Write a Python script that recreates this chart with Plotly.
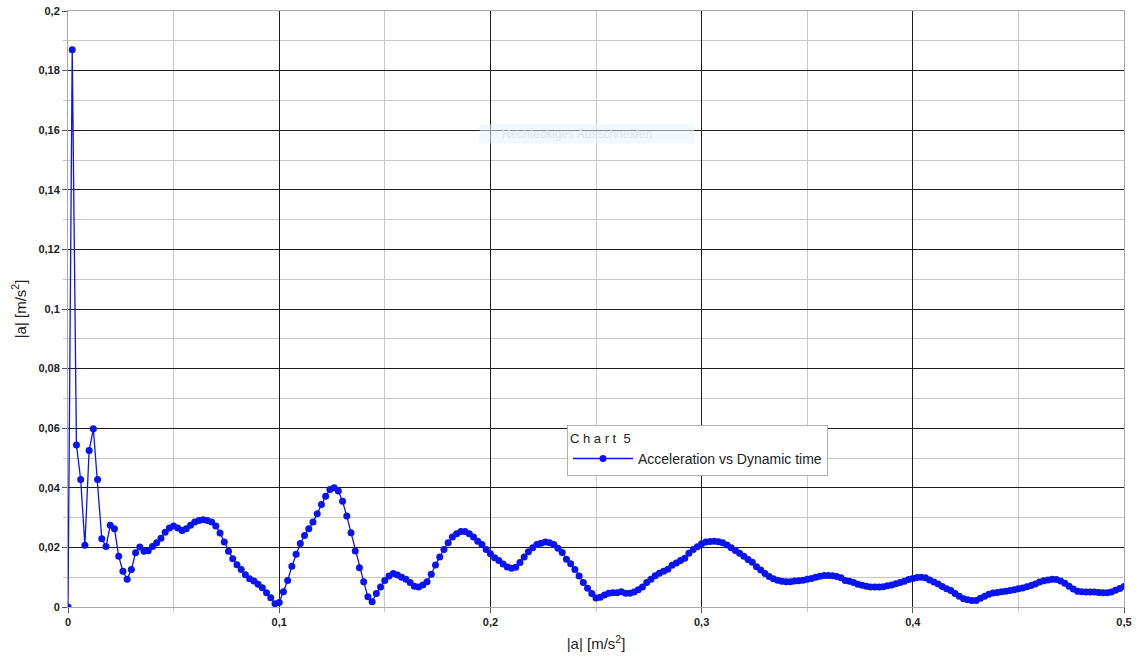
import plotly.graph_objects as go

step = 0.002
acc = [
    0, 0.187, 0.0544, 0.0428, 0.0207, 0.0525, 0.0598, 0.0428, 0.0229, 0.0203,
    0.0274, 0.0263, 0.0170, 0.0120, 0.0093, 0.0126, 0.0182, 0.0201, 0.0187, 0.0189,
    0.0203, 0.0216, 0.0231, 0.0251, 0.0265, 0.0272, 0.0265, 0.0257, 0.0263, 0.0274,
    0.0285, 0.0290, 0.0293, 0.0290, 0.0285, 0.0272, 0.0248, 0.0218, 0.0187, 0.0162,
    0.0142, 0.0126, 0.0108, 0.0095, 0.0087, 0.0076, 0.0065, 0.0048, 0.0031, 0.0011,
    0.0015, 0.0051, 0.0089, 0.0137, 0.0177, 0.0213, 0.0240, 0.0263, 0.0285, 0.0313,
    0.0344, 0.0372, 0.0394, 0.0400, 0.0389, 0.0355, 0.0305, 0.0249, 0.0188, 0.0132,
    0.0085, 0.0034, 0.0018, 0.0045, 0.0067, 0.0089, 0.0104, 0.0112, 0.0107, 0.0100,
    0.0093, 0.0082, 0.0070, 0.0067, 0.0074, 0.0085, 0.0110, 0.0141, 0.0168, 0.0193,
    0.0216, 0.0235, 0.0246, 0.0253, 0.0253, 0.0246, 0.0235, 0.0221, 0.0210, 0.0193,
    0.0179, 0.0165, 0.0156, 0.0144, 0.0134, 0.0130, 0.0133, 0.0149, 0.0168, 0.0185,
    0.0199, 0.0210, 0.0214, 0.0218, 0.0216, 0.0210, 0.0197, 0.0183, 0.0160, 0.0145,
    0.0126, 0.0104, 0.0082, 0.0063, 0.0045, 0.0030, 0.0033, 0.0040, 0.0046, 0.0048,
    0.0048, 0.0051, 0.0046, 0.0046, 0.0050, 0.0058, 0.0067, 0.0082, 0.0093, 0.0105,
    0.0113, 0.0120, 0.0127, 0.0140, 0.0148, 0.0156, 0.0164, 0.0180, 0.0193, 0.0202,
    0.0212, 0.0218, 0.0220, 0.0221, 0.0219, 0.0216, 0.0208, 0.0199, 0.0190, 0.0180,
    0.0170, 0.0159, 0.0150, 0.0135, 0.0124, 0.0112, 0.0102, 0.0095, 0.0090, 0.0086,
    0.0085, 0.0085, 0.0087, 0.0088, 0.0090, 0.0093, 0.0096, 0.0100, 0.0103, 0.0106,
    0.0106, 0.0105, 0.0102, 0.0098, 0.0089, 0.0086, 0.0082, 0.0076, 0.0073, 0.0070,
    0.0067, 0.0067, 0.0067, 0.0068, 0.0071, 0.0074, 0.0078, 0.0082, 0.0086, 0.0092,
    0.0096, 0.0099, 0.0100, 0.0098, 0.0091, 0.0084, 0.0077, 0.0069, 0.0061, 0.0055,
    0.0045, 0.0036, 0.0028, 0.0024, 0.0022, 0.0022, 0.0029, 0.0036, 0.0043, 0.0047,
    0.0049, 0.0051, 0.0053, 0.0055, 0.0058, 0.0061, 0.0064, 0.0068, 0.0072, 0.0077,
    0.0084, 0.0088, 0.0091, 0.0093, 0.0092, 0.0087, 0.0080, 0.0070, 0.0060, 0.0053,
    0.0051, 0.0050, 0.0050, 0.0050, 0.0049, 0.0048, 0.0048, 0.0050, 0.0056, 0.0062, 0.0069,
]
time = [round(step * i, 3) for i in range(len(acc))]

series_name = "Acceleration vs Dynamic time"
legend_title = "C h a r t  5"
x_title = "|a| [m/s<sup>2</sup>]"
y_title = "|a| [m/s<sup>2</sup>]"

blue = "#0a14f0"
major = "#1e1e1e"
minor = "#c8c8c8"
frame = "#a8a8a8"
tick_font = dict(family="Liberation Sans", size=11, color="#222222", weight="bold")
title_font = dict(family="Liberation Sans", size=15, color="#222222")

fig = go.Figure()
fig.add_trace(go.Scatter(
    x=time, y=acc, mode="lines+markers", name=series_name,
    line=dict(color=blue, width=1.3),
    marker=dict(color=blue, size=7),
))

fig.update_layout(
    width=1136, height=661,
    margin=dict(l=68, r=12, t=11, b=54, autoexpand=False),
    paper_bgcolor="white", plot_bgcolor="white",
    separators=", ",
    showlegend=True,
    legend=dict(
        x=(567 - 68) / 1056, y=(607 - 425) / 596, xanchor="left", yanchor="top",
        bgcolor="white", bordercolor="#b0b0b0", borderwidth=1,
        title=dict(text=legend_title, font=dict(family="Liberation Sans", size=13, color="#222")),
        font=dict(family="Liberation Sans", size=14, color="#222"),
        itemwidth=60,
    ),
    xaxis=dict(
        range=[0, 0.5], tickmode="linear", tick0=0, dtick=0.1, tickformat=".1~f",
        automargin=False,
        showgrid=True, gridcolor=major, gridwidth=1.2,
        showline=True, linecolor=frame, linewidth=1, mirror=True,
        ticks="outside", ticklen=5, tickcolor="#555", tickfont=tick_font,
        minor=dict(dtick=0.05, showgrid=True, gridcolor=minor, gridwidth=1.4,
                   ticks="outside", ticklen=4, tickcolor=minor),
        zeroline=False,
        title=dict(text=x_title, font=title_font, standoff=11),
    ),
    yaxis=dict(
        range=[0, 0.2], tickmode="linear", tick0=0, dtick=0.02, tickformat=".2~f",
        automargin=False,
        showgrid=True, gridcolor=major, gridwidth=1.2,
        showline=True, linecolor=frame, linewidth=1, mirror=True,
        ticks="outside", ticklen=5, tickcolor="#555", tickfont=tick_font,
        minor=dict(dtick=0.01, showgrid=True, gridcolor=minor, gridwidth=1.4,
                   ticks="outside", ticklen=4, tickcolor=minor),
        zeroline=False,
        title=dict(text=y_title, font=title_font, standoff=8),
    ),
)

# faint screenshot tooltip overlay
fig.add_annotation(
    xref="paper", yref="paper", x=(479 - 68) / 1056, y=(607 - 124) / 596,
    xanchor="left", yanchor="top", showarrow=False,
    text="&nbsp;&nbsp;&nbsp;&nbsp;&nbsp;&nbsp;Rechteckiges Ausschneiden&nbsp;&nbsp;&nbsp;&nbsp;&nbsp;&nbsp;&nbsp;&nbsp;&nbsp;&nbsp;&nbsp;&nbsp;",
    font=dict(family="Liberation Sans", size=12, color="#e2e6ec"),
    bgcolor="rgba(232,242,254,0.55)", borderpad=2,
)

fig.write_html("out.html", config={"displayModeBar": False},
               post_script="document.body.style.margin='0px';")
